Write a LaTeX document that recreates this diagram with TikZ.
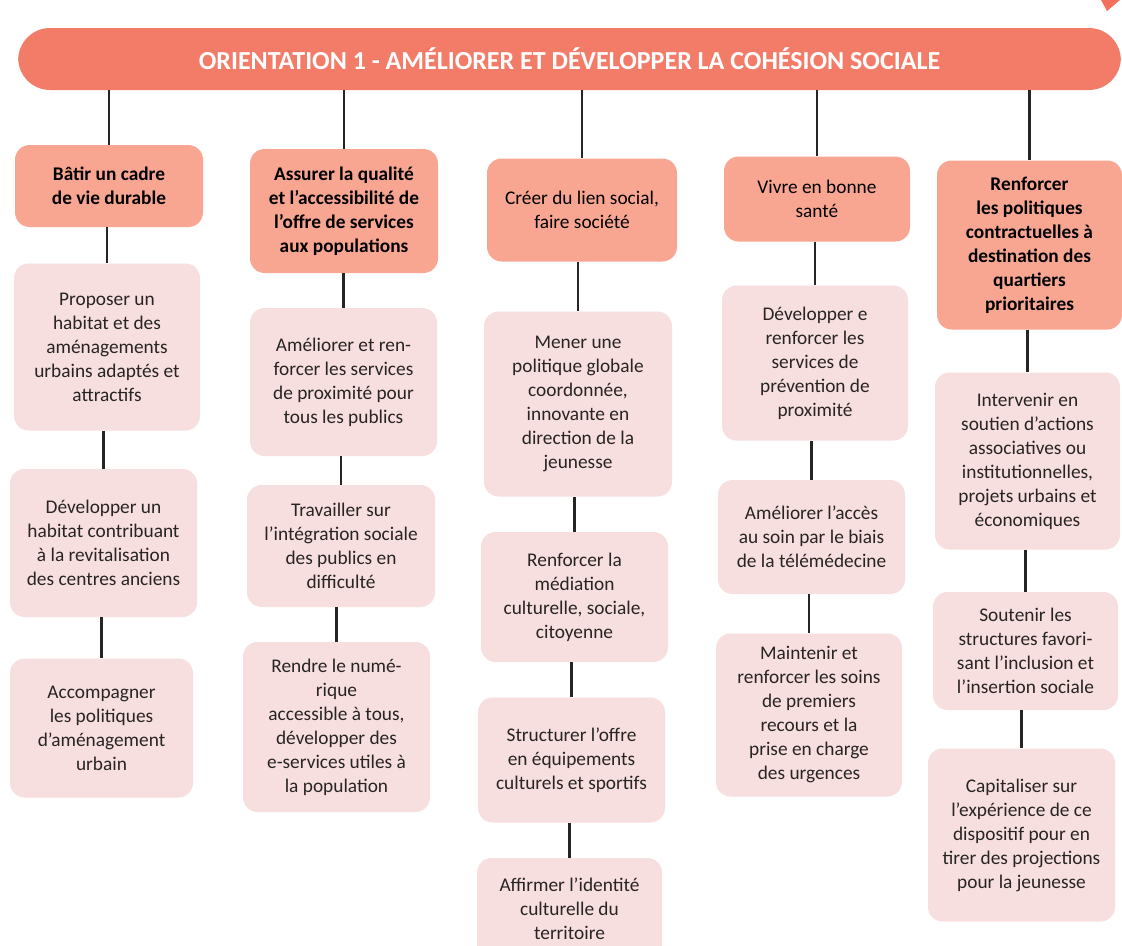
\documentclass[tikz,border=0pt]{standalone}
\usepackage{fontspec}
\setmainfont{Carlito}
\usepackage{xcolor}
\usepackage{tikz}

\definecolor{bandred}{RGB}{243,124,104}
\definecolor{axisred}{RGB}{248,166,146}
\definecolor{actionpink}{RGB}{246,223,222}
\definecolor{inkgrey}{RGB}{40,36,36}

\tikzset{
  axisbox/.style={draw=none, fill=axisred, rounded corners=11pt, align=center,
    text=black, font=\fontsize{14.5}{18}\selectfont\bfseries, inner sep=2pt},
  actionbox/.style={draw=none, fill=actionpink, rounded corners=11pt, align=center,
    text=inkgrey, font=\fontsize{14.5}{18}\selectfont, inner sep=2pt},
  link/.style={draw=inkgrey, line width=1.8pt},
}

\begin{document}
\begin{tikzpicture}[x=0.75pt,y=0.75pt,yscale=-1,xscale=1]
\useasboundingbox (0,0) rectangle (1122,946);
\fill[white] (0,0) rectangle (1122,946);

%Shape: corner mark
\fill[bandred!90!red] (1101,0) -- (1120,0) -- (1107,11) -- cycle;

%Shape: title band
\node[fill=bandred, rounded corners=24pt, minimum width=827pt, minimum height=46.5pt,
  text=white, font=\fontsize{19.5}{20}\selectfont\bfseries] (title) at (569.5,59) {ORIENTATION 1 - AMÉLIORER ET DÉVELOPPER LA COHÉSION SOCIALE};

% column 1
\node[axisbox, minimum width=141pt, minimum height=61.5pt] (axeA) at (109,186) {Bâtir un cadre\\de vie durable};
\node[actionbox, minimum width=139.5pt, minimum height=125.25pt] (actA1) at (107,347) {Proposer un\\habitat et des\\aménagements\\urbains adaptés et\\attractifs};
\node[actionbox, minimum width=140.25pt, minimum height=111pt] (actA2) at (103.5,543) {Développer un\\habitat contribuant\\à la revitalisation\\des centres anciens};
\node[actionbox, minimum width=137.25pt, minimum height=104.25pt] (actA3) at (101.5,728) {Accompagner\\les politiques\\d’aménagement\\urbain};

% column 2
\node[axisbox, minimum width=141pt, minimum height=93pt] (axeB) at (344,211) {Assurer la qualité\\et l’accessibilité de\\l’offre de services\\aux populations};
\node[actionbox, minimum width=140.25pt, minimum height=111pt] (actB1) at (343.5,382) {Améliorer et ren-\\forcer les services\\de proximité pour\\tous les publics};
\node[actionbox, minimum width=141pt, minimum height=91.5pt] (actB2) at (341,546) {Travailler sur\\l’intégration sociale\\des publics en\\difficulté};
\node[actionbox, minimum width=140.25pt, minimum height=127.5pt] (actB3) at (336.5,727) {Rendre le numé-\\rique\\accessible à tous,\\développer des\\e-services utiles à\\la population};

% column 3
\node[axisbox, minimum width=142.5pt, minimum height=77.25pt] (axeC) at (582,210) {\mdseries Créer du lien social,\\\mdseries faire société};
\node[actionbox, minimum width=141pt, minimum height=138.75pt] (actC1) at (578,404) {Mener une\\politique globale\\coordonnée,\\innovante en\\direction de la\\jeunesse};
\node[actionbox, minimum width=140.25pt, minimum height=97.5pt] (actC2) at (574.5,597) {Renforcer la\\médiation\\culturelle, sociale,\\citoyenne};
\node[actionbox, minimum width=140.25pt, minimum height=93.75pt] (actC3) at (571.5,760) {Structurer l’offre\\en équipements\\culturels et sportifs};
\node[actionbox, minimum width=138.75pt, minimum height=76.5pt] (actC4) at (569.5,909) {Affirmer l’identité\\culturelle du\\territoire};

% column 4
\node[axisbox, minimum width=139.5pt, minimum height=63.75pt] (axeD) at (817,199) {\mdseries Vivre en bonne\\\mdseries santé};
\node[actionbox, minimum width=139.5pt, minimum height=116.25pt] (actD1) at (815,363) {Développer e\\renforcer les\\services de\\prévention de\\proximité};
\node[actionbox, minimum width=140.25pt, minimum height=85.5pt] (actD2) at (811.5,537) {Améliorer l’accès\\au soin par le biais\\de la télémédecine};
\node[actionbox, minimum width=139.5pt, minimum height=122.25pt] (actD3) at (809,715) {Maintenir et\\renforcer les soins\\de premiers\\recours et la\\prise en charge\\des urgences};

% column 5
\node[axisbox, minimum width=138.75pt, minimum height=126.75pt] (axeE) at (1029.5,245) {Renforcer\\les politiques\\contractuelles à\\destination des\\quartiers\\prioritaires};
\node[actionbox, minimum width=138.75pt, minimum height=132.75pt] (actE1) at (1027.5,461) {Intervenir en\\soutien d’actions\\associatives ou\\institutionnelles,\\projets urbains et\\économiques};
\node[actionbox, minimum width=138.75pt, minimum height=88.5pt] (actE2) at (1025.5,651) {Soutenir les\\structures favori-\\sant l’inclusion et\\l’insertion sociale};
\node[actionbox, minimum width=140.25pt, minimum height=129.75pt] (actE3) at (1021.5,835) {Capitaliser sur\\l’expérience de ce\\dispositif pour en\\tirer des projections\\pour la jeunesse};

%Straight Lines: title to axes
\foreach \ax in {axeA,axeB,axeC,axeD,axeE}
  \draw[link] (\ax.north |- title.south) -- (\ax.north);

%Straight Lines: within columns
\foreach \up/\down in {axeA/actA1,actA1/actA2,actA2/actA3,
    axeB/actB1,actB1/actB2,actB2/actB3,
    axeC/actC1,actC1/actC2,actC2/actC3,actC3/actC4,
    axeD/actD1,actD1/actD2,actD2/actD3,
    axeE/actE1,actE1/actE2,actE2/actE3}
  \draw[link] (\down.north |- \up.south) -- (\down.north);

\end{tikzpicture}
\end{document}
